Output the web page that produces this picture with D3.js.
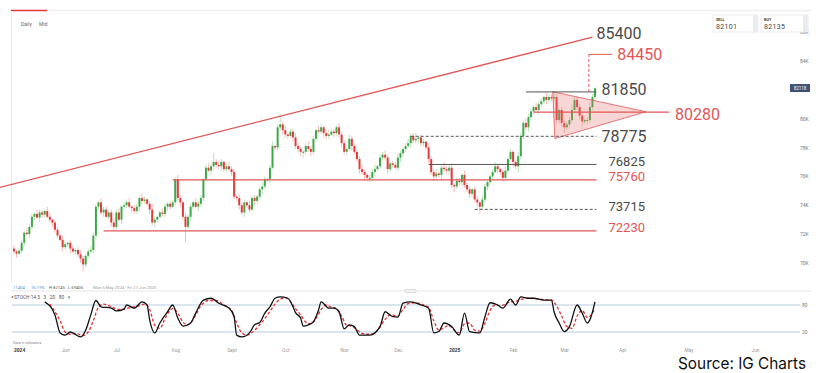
<!DOCTYPE html>
<html>
<head>
<meta charset="utf-8">
<title>Daily chart with stochastic</title>
<script src="https://d3js.org/d3.v7.min.js"></script>
<style>
  body { margin: 0; background: #fff; font-family: Roboto, 'Noto Sans', sans-serif; }
  svg { display: block; }
</style>
</head>
<body>
<svg id="chart" width="822" height="373"></svg>
<script>
// daily closes, one per trading day from Mon 6 May 2024
const firstOpen = 71000;
const closes = [
  70800,70650,70850,71400,72100,72000,72500,73200,73400,73150,
  73500,73350,73600,73200,73000,72800,72300,71900,71600,71100,
  71300,71400,71000,70800,70900,70600,70300,69900,70500,70800,
  70900,71900,73900,74200,73500,73700,73200,73500,72800,72500,
  73500,73000,73900,74000,74200,73900,73800,73600,73900,74500,
  74300,74400,74100,73700,72800,73000,73200,73500,73400,73900,
  74100,73900,74200,75800,74500,74200,73200,72500,73200,73900,
  74200,73900,74100,74500,75800,76600,76400,76700,77000,76800,
  76700,77000,76500,76700,76500,76300,74600,74500,74000,73500,
  74200,74000,73700,74500,74300,74600,75100,75300,75800,75800,
  76600,78100,78000,79400,79600,79200,78900,78800,79100,78700,
  78100,77900,77700,77700,78100,77900,77700,78600,79200,79100,
  79400,79000,78800,78900,79100,79000,79400,78900,78300,77700,
  77900,78600,78100,77700,77200,76500,76300,76100,75900,75900,
  76300,76500,76700,77300,77500,77300,76500,76900,76800,76600,
  77300,77600,77900,78100,78300,78800,78500,78600,78700,78300,
  78400,78000,77200,76300,76000,76200,76100,76600,76500,76400,
  76600,75400,75300,75700,75600,76100,75400,75100,74800,75100,
  74400,74200,73900,74400,75300,75600,76000,76300,76700,76500,
  76300,75900,76400,77200,77700,77000,76700,77400,78800,79700,
  79400,80100,80500,80800,80600,81000,81200,81500,81300,81500,
  81400,81500,79900,80600,79700,79400,79600,79900,80600,81300,
  80800,80200,79800,79900,79900,80800,81500,82100
];
// wick lengths above / below the body, in hundreds of points
const upWick = [
  2,1,2,2,1,3,2,2,1,3, 2,2,1,3,2,1,2,2,1,3, 2,1,2,2,1,2,3,2,1,2,
  3,2,2,1,3,2,2,1,2,3, 2,3,1,2,2,3,1,2,2,1, 3,2,1,2,4,2,1,2,3,2,
  1,2,2,1,3,2,1,3,2,2, 1,3,2,2,1,2,3,2,6,2, 3,2,1,2,3,2,2,1,3,2,
  2,1,3,2,2,1,2,3,2,1, 2,3,1,2,7,2,3,1,2,2, 3,2,2,1,2,3,2,2,1,3,
  2,1,2,3,2,2,1,3,2,2, 1,3,2,2,1,2,3,2,1,2, 2,3,1,2,2,3,2,1,2,2,
  3,2,1,2,3,2,2,4,1,2, 2,1,3,2,2,3,1,2,4,2, 2,3,1,2,2,1,3,2,2,1,
  2,2,1,3,2,2,1,2,3,2, 1,2,3,2,2,1,2,3,2,2, 3,2,2,1,3,2,2,1,3,2,
  2,3,2,1,2,3,2,2,4,2, 3,2,2,1,2,3,2,0
];
const downWick = [
  2,3,1,2,2,1,3,2,2,1, 3,2,2,1,2,3,2,2,1,3, 2,2,3,1,2,2,3,5,2,2,
  1,2,3,2,2,3,1,2,3,2, 2,1,3,2,2,1,3,2,2,3, 2,2,1,3,2,3,2,1,2,2,
  3,2,1,2,2,3,2,11,2,3, 2,1,3,2,2,2,1,3,2,2, 2,3,2,2,1,3,2,2,3,2,
  3,2,2,1,3,2,2,3,2,2, 3,1,2,2,2,3,2,2,1,3, 2,2,3,4,2,2,3,2,2,1,
  2,3,2,2,1,3,2,2,3,2, 2,1,3,2,2,3,2,4,2,3, 2,3,1,2,2,2,3,2,2,1,
  2,3,2,2,1,3,2,2,3,2, 2,2,3,2,3,2,2,4,2,2, 3,2,4,2,2,3,2,2,3,2,
  2,3,5,2,2,3,2,2,1,3, 2,3,2,2,1,3,2,4,2,2, 2,3,2,2,1,3,2,2,3,2,
  2,2,3,2,3,4,2,3,2,2, 2,3,4,2,3,2,2,2
];

// stochastic 14,3,3: [trading-day index, value]
const stochK = [[12,87],[16,58],[18,18],[20,13],[22,20],[23,18],[26,9],[28,24],[30,58],[32,90],
  [34,76],[38,73],[40,67],[43,71],[44,80],[47,73],[50,87],[52,80],[53,47],[55,18],[57,40],
  [60,65],[62,80],[64,51],[66,33],[69,40],[71,62],[74,91],[77,95],[80,84],[84,73],[86,54],
  [87,13],[89,9],[92,18],[94,36],[96,41],[98,62],[100,76],[102,95],[104,98],[107,95],[109,76],
  [110,63],[112,51],[113,33],[115,36],[117,43],[119,69],[120,87],[123,73],[125,73],[127,65],
  [129,27],[131,36],[133,32],[135,13],[139,13],[143,32],[145,65],[148,54],[150,53],[152,84],
  [155,87],[159,80],[162,73],[164,18],[166,21],[168,40],[171,32],[174,13],[176,62],[178,21],
  [182,18],[184,54],[186,85],[189,80],[191,73],[194,93],[196,80],[198,98],[201,95],[203,95],
  [207,91],[210,91],[211,65],[213,40],[215,21],[217,32],[220,80],[222,62],[224,40],[225,47],[227,87]];
const stochD = [[14,82],[18,45],[20,20],[22,15],[24,17],[27,12],[29,20],[31,45],[33,75],[35,82],
  [38,76],[41,70],[44,72],[46,75],[48,77],[51,82],[53,70],[55,35],[57,28],[59,50],[62,72],
  [64,62],[66,42],[68,36],[70,48],[73,78],[76,90],[79,90],[82,80],[85,68],[87,40],[89,18],
  [91,13],[94,24],[96,36],[98,50],[100,66],[102,82],[104,93],[106,96],[108,88],[110,72],
  [112,58],[114,42],[116,38],[118,50],[120,70],[122,80],[124,75],[126,72],[128,55],[130,35],
  [132,33],[134,25],[136,17],[139,15],[142,24],[145,48],[147,58],[150,56],[152,70],[154,83],
  [157,85],[160,80],[162,75],[164,45],[166,24],[168,30],[170,34],[172,24],[174,18],[176,38],
  [178,40],[180,24],[182,22],[184,40],[186,68],[188,80],[190,78],[192,82],[194,87],[196,88],
  [198,92],[201,95],[204,94],[207,92],[210,91],[212,78],[214,55],[216,32],[218,28],[220,55],
  [222,68],[224,52],[227,72]];

// month labels and their trading-day index
const monthLabels = ["2024","Jun","Jul","Aug","Sept","Oct","Nov","Dec","2025","Feb","Mar","Apr","May","Jun"];
const monthIdx = [2, 20, 40, 63, 85, 106, 129, 150, 172, 195, 215, 236, 258, 280];

// analyst levels
const levelNames = ["81850", "78775", "76825", "75760", "73715", "72230"];
const levelValues = [81850, 78775, 76825, 75760, 73715, 72230];
const levelStart = [200, 155, 162, 62, 180, 35];
const levelEnd = 227.5;
const levelRed = [false, false, false, true, false, true];
const levelDashed = [false, true, false, false, true, false];

const trendIdx = [-5.5, 226], trendVal = [75240, 85650];
const pennantIdx = [210.5, 211.3, 243.9], pennantVal = [81860, 78620, 80480];
const pennantLine = {from: 203, to: 251.5, value: 80450, name: "80280"};
const target = {idx: 224.6, from: 81850, value: 84450, to: 232.7, name: "84450"};

// 82K sits under the last-price tag, so it is not listed
const yTicks = [70000, 72000, 74000, 76000, 78000, 80000, 84000, 86000];
const lastPrice = 82118, sellPrice = "82101", buyPrice = "82135";

const RED = "#e25656", DARK = "#4a4a4a";

const svg = d3.select("#chart");
const x = d3.scaleLinear().domain([0, 227, 280]).range([14, 595, 755]);
const y = d3.scaleLinear().domain([70000, 86000]).range([263, 32]);
const ys = d3.scaleLinear().domain([20, 80]).range([332, 305]);

// frame / header
svg.append("line").attr("x1", 11).attr("x2", 812).attr("y1", 10.5).attr("y2", 10.5)
  .attr("stroke", "#eef0f2").attr("stroke-width", 1.5);
svg.append("line").attr("x1", 11).attr("x2", 47).attr("y1", 10.5).attr("y2", 10.5)
  .attr("stroke", "#e53935").attr("stroke-width", 1.5);
svg.append("line").attr("x1", 11.5).attr("x2", 11.5).attr("y1", 11).attr("y2", 282)
  .attr("stroke", "#e6e6e6");
svg.append("text").attr("x", 21).attr("y", 26).attr("font-size", 5).attr("fill", "#666").text("Daily");
svg.append("text").attr("x", 39).attr("y", 26).attr("font-size", 5).attr("fill", "#666").text("Mid");

// right axis
const yAxis = svg.append("g").attr("transform", "translate(797,0)")
  .call(d3.axisRight(y).tickValues(yTicks).tickSize(0).tickFormat(d => d / 1000 + "K"));
yAxis.select(".domain").remove();
yAxis.selectAll("text").attr("font-size", 5).attr("fill", "#777").attr("font-family", "Roboto, sans-serif");

// candles
const candles = closes.map((c, i) => {
  const o = i === 0 ? firstOpen : closes[i - 1];
  return {i, o, c, h: Math.max(o, c) + upWick[i] * 100, l: Math.min(o, c) - downWick[i] * 100};
});
const cg = svg.append("g");
cg.selectAll("line.wick").data(candles).join("line")
  .attr("class", "wick")
  .attr("x1", d => x(d.i)).attr("x2", d => x(d.i))
  .attr("y1", d => y(d.h)).attr("y2", d => y(d.l))
  .attr("stroke", d => d.c >= d.o ? "#a9dbab" : "#f3a9a9").attr("stroke-width", 0.8);
cg.selectAll("rect").data(candles).join("rect")
  .attr("x", d => x(d.i) - 1)
  .attr("width", 2)
  .attr("y", d => y(Math.max(d.o, d.c)))
  .attr("height", d => Math.max(1, Math.abs(y(d.o) - y(d.c))))
  .attr("fill", d => d.c >= d.o ? "#3ea84a" : "#e23b3b");

// trend line
svg.append("line")
  .attr("x1", x(trendIdx[0])).attr("y1", y(trendVal[0]))
  .attr("x2", x(trendIdx[1])).attr("y2", y(trendVal[1]))
  .attr("stroke", RED).attr("stroke-width", 1.3);
svg.append("text").attr("x", x(trendIdx[1]) + 4).attr("y", y(trendVal[1]) - 4).attr("dy", "0.35em")
  .attr("font-size", 16).attr("fill", DARK).text("85400");

// pennant
svg.append("path")
  .attr("d", d3.line()(pennantIdx.map((d, i) => [x(d), y(pennantVal[i])])) + "Z")
  .attr("fill", "rgba(236,120,120,0.3)").attr("stroke", RED).attr("stroke-width", 0.8);
svg.append("line")
  .attr("x1", x(pennantLine.from)).attr("x2", x(pennantLine.to))
  .attr("y1", y(pennantLine.value)).attr("y2", y(pennantLine.value))
  .attr("stroke", RED).attr("stroke-width", 1.3);
svg.append("text").attr("x", x(pennantLine.to) + 6).attr("y", y(pennantLine.value) + 2).attr("dy", "0.35em")
  .attr("font-size", 16).attr("fill", RED).text(pennantLine.name);

// levels
levelValues.forEach((v, k) => {
  svg.append("line")
    .attr("x1", x(levelStart[k])).attr("x2", x(levelEnd))
    .attr("y1", y(v)).attr("y2", y(v))
    .attr("stroke", levelRed[k] ? RED : "#555")
    .attr("stroke-width", levelRed[k] ? 1.3 : 1)
    .attr("stroke-dasharray", levelDashed[k] ? "3,2" : null);
  const big = k < 2;
  svg.append("text")
    .attr("x", x(levelEnd) + (big ? 5 : 12))
    .attr("y", y(v) + (k === 1 ? 0 : -3))
    .attr("dy", "0.35em")
    .attr("font-size", big ? 16 : 13)
    .attr("fill", levelRed[k] ? RED : DARK)
    .text(levelNames[k]);
});

// target
svg.append("line")
  .attr("x1", x(target.idx)).attr("x2", x(target.idx))
  .attr("y1", y(target.from)).attr("y2", y(target.value))
  .attr("stroke", RED).attr("stroke-width", 1).attr("stroke-dasharray", "3,2");
svg.append("line")
  .attr("x1", x(target.idx)).attr("x2", x(target.to))
  .attr("y1", y(target.value)).attr("y2", y(target.value))
  .attr("stroke", RED).attr("stroke-width", 1);
svg.append("text").attr("x", x(target.to) + 5).attr("y", y(target.value)).attr("dy", "0.35em")
  .attr("font-size", 16).attr("fill", RED).text(target.name);

// last price tag
svg.append("rect").attr("x", 790).attr("y", y(lastPrice) - 4).attr("width", 20).attr("height", 8)
  .attr("fill", "#3f5273");
svg.append("text").attr("x", 800).attr("y", y(lastPrice)).attr("dy", "0.35em")
  .attr("text-anchor", "middle").attr("font-size", 4.5).attr("fill", "#fff").text(lastPrice);

// sell / buy boxes
[["SELL", sellPrice, 713, 45], ["BUY", buyPrice, 761, 47]].forEach(([lab, val, bx, bw]) => {
  svg.append("rect").attr("x", bx).attr("y", 15).attr("width", bw).attr("height", 17)
    .attr("fill", "#fff").attr("stroke", "#dcdcdc").attr("stroke-width", 0.6);
  svg.append("rect").attr("x", bx + bw - 5).attr("y", 15.3).attr("width", 4.7).attr("height", 16.4)
    .attr("fill", "#e9ebee");
  svg.append("text").attr("x", bx + 3).attr("y", 20.5).attr("font-size", 3.8).attr("font-weight", 700)
    .attr("fill", "#444").text(lab);
  svg.append("text").attr("x", bx + 3).attr("y", 29).attr("font-size", 7).attr("fill", "#444")
    .attr("letter-spacing", 0.3).text(val);
});

// info row
const info = [["11404", 13, "#4a8fd0"], ["16.19%", 31, "#4a8fd0"], ["H 82145", 49, "#555"],
  ["L 69406", 68, "#555"], ["Mon 6 May 2024 - Fri 27 Jun 2025", 93, "#999"]];
info.forEach(([t, tx, col]) => svg.append("text").attr("x", tx).attr("y", 289)
  .attr("font-size", 4.2).attr("fill", col).text(t));

// stochastic panel
svg.append("line").attr("x1", 12).attr("x2", 812).attr("y1", 291).attr("y2", 291)
  .attr("stroke", "#dedede").attr("stroke-width", 0.8);
svg.append("rect").attr("x", 405).attr("y", 289.5).attr("width", 11).attr("height", 3).attr("rx", 1.2)
  .attr("fill", "#f4f4f4").attr("stroke", "#bbb").attr("stroke-width", 0.5);
[80, 20].forEach(v => {
  svg.append("line").attr("x1", 12).attr("x2", 800).attr("y1", ys(v)).attr("y2", ys(v))
    .attr("stroke", "#b5cbe0").attr("stroke-width", 1);
  svg.append("text").attr("x", 802).attr("y", ys(v)).attr("dy", "0.35em")
    .attr("font-size", 4.8).attr("fill", "#777").text(v);
});
const sline = d3.line().x(d => x(d[0])).y(d => ys(d[1])).curve(d3.curveMonotoneX);
svg.append("path").attr("d", sline(stochD)).attr("fill", "none")
  .attr("stroke", "#e23030").attr("stroke-width", 1.3).attr("stroke-dasharray", "3,2");
svg.append("path").attr("d", sline(stochK)).attr("fill", "none")
  .attr("stroke", "#111").attr("stroke-width", 1.3);
svg.append("circle").attr("cx", 12.5).attr("cy", 297).attr("r", 0.8).attr("fill", "#333");
svg.append("text").attr("x", 14).attr("y", 299).attr("font-size", 4.8).attr("fill", "#555")
  .attr("xml:space", "preserve").text("STOCH 14 3   3   20   80   ×");
svg.append("text").attr("x", 13).attr("y", 343.5).attr("font-size", 3.8).attr("fill", "#888")
  .text("Data e indicators");

// bottom axis
const xAxis = svg.append("g").attr("transform", "translate(0,346)")
  .call(d3.axisBottom(x).tickValues(monthIdx).tickSize(0).tickFormat((d, i) => monthLabels[i]));
xAxis.select(".domain").remove();
xAxis.selectAll("text").attr("font-size", 4.8).attr("font-family", "Roboto, sans-serif")
  .attr("fill", (d, i) => /^\d/.test(monthLabels[i]) ? "#333" : "#999")
  .attr("font-weight", (d, i) => /^\d/.test(monthLabels[i]) ? 700 : 400);

// source
svg.append("text").attr("x", 678).attr("y", 369).attr("font-size", 16.5).attr("fill", "#111")
  .attr("font-family", "Inter, Roboto, sans-serif")
  .attr("textLength", 128).attr("lengthAdjust", "spacingAndGlyphs").text("Source: IG Charts");
</script>
</body>
</html>
